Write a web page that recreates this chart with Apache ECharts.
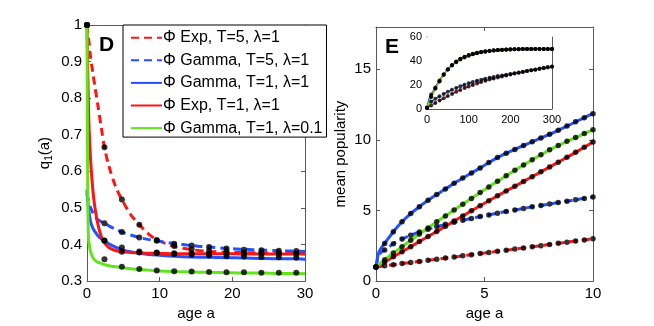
<!DOCTYPE html>
<html>
<head>
<meta charset="utf-8">
<script src="https://cdn.jsdelivr.net/npm/echarts@6/dist/echarts.min.js"></script>
<style>
html, body { margin: 0; padding: 0; background: #fff; }
#chart { width: 654px; height: 326px; }
</style>
</head>
<body>
<div id="chart"></div>
<script>
// ---- panel D : q1(a) against age ----
var ageD = [0, 0.1, 0.2, 0.3, 0.5, 0.8, 1.1, 1.5, 2, 2.4, 3, 4, 4.8, 6, 7.2, 8.4, 9.6, 12, 14.4, 16.8, 19.2, 21.6, 24, 26.4, 28.8, 30]
var dExpT5 = [1, 0.98, 0.965, 0.95, 0.91, 0.87, 0.83, 0.78, 0.715, 0.666, 0.615, 0.555, 0.523, 0.482, 0.454, 0.43, 0.413, 0.395, 0.386, 0.381, 0.379, 0.378, 0.377, 0.377, 0.376, 0.376]
var dGamT5 = [0.54, 0.53, 0.52, 0.512, 0.5, 0.487, 0.477, 0.468, 0.462, 0.458, 0.451, 0.441, 0.434, 0.426, 0.419, 0.414, 0.41, 0.403, 0.397, 0.393, 0.389, 0.387, 0.385, 0.383, 0.382, 0.381]
var dGamT1 = [0.55, 0.52, 0.5, 0.485, 0.462, 0.445, 0.435, 0.424, 0.415, 0.41, 0.402, 0.392, 0.386, 0.38, 0.376, 0.373, 0.371, 0.368, 0.366, 0.365, 0.364, 0.363, 0.362, 0.361, 0.361, 0.36]
var dExpT1 = [1, 0.88, 0.78, 0.71, 0.63, 0.55, 0.5, 0.455, 0.42, 0.405, 0.392, 0.383, 0.38, 0.378, 0.377, 0.376, 0.376, 0.375, 0.375, 0.375, 0.375, 0.374, 0.374, 0.374, 0.374, 0.374]
var dGamL01 = [1, 0.55, 0.42, 0.4, 0.38, 0.365, 0.357, 0.352, 0.348, 0.345, 0.342, 0.339, 0.337, 0.334, 0.332, 0.33, 0.328, 0.326, 0.325, 0.324, 0.323, 0.322, 0.322, 0.321, 0.321, 0.32]
// simulation points
var dotAgeD = [0, 2.4, 4.8, 7.2, 9.6, 12, 14.4, 16.8, 19.2, 21.6, 24, 26.4, 28.8]
var dotExpT5 = [1, 0.666, 0.523, 0.454, 0.412, 0.396, 0.387, 0.382, 0.38, 0.378, 0.377, 0.376, 0.376]
var dotGamT5 = [1, 0.458, 0.434, 0.419, 0.41, 0.402, 0.397, 0.393, 0.389, 0.386, 0.384, 0.383, 0.382]
var dotGamT1 = [1, 0.411, 0.392, 0.381, 0.378, 0.374, 0.372, 0.37, 0.368, 0.367, 0.366, 0.365, 0.364]
var dotExpT1 = [1, 0.41, 0.38, 0.378, 0.377, 0.376, 0.376, 0.375, 0.375, 0.375, 0.375, 0.374, 0.374]
var dotGamL01 = [1, 0.36, 0.339, 0.333, 0.329, 0.327, 0.326, 0.325, 0.324, 0.324, 0.323, 0.323, 0.323]

// ---- panel E : mean popularity against age ----
var ageE = [0, 0.1, 0.2, 0.4, 0.8, 1.2, 1.6, 2, 2.4, 2.8, 3.2, 3.6, 4, 4.4, 4.8, 5.2, 5.6, 6, 6.4, 6.8, 7.2, 7.6, 8, 8.4, 8.8, 9.2, 9.6, 10]
var eExpT5 = [1, 1.02, 1.04, 1.08, 1.16, 1.24, 1.31, 1.39, 1.47, 1.55, 1.63, 1.71, 1.79, 1.87, 1.95, 2.03, 2.11, 2.19, 2.27, 2.35, 2.43, 2.51, 2.6, 2.68, 2.76, 2.84, 2.92, 3.0]
var eGamT5 = [1, 1.7, 2.0, 2.2, 2.65, 2.98, 3.25, 3.48, 3.68, 3.86, 4.02, 4.17, 4.31, 4.44, 4.57, 4.69, 4.81, 4.93, 5.04, 5.15, 5.26, 5.36, 5.46, 5.56, 5.66, 5.76, 5.86, 5.96]
var eGamT1 = [1, 1.9, 2.25, 2.67, 3.5, 4.2, 4.78, 5.27, 5.72, 6.13, 6.52, 6.93, 7.3, 7.66, 8.02, 8.4, 8.75, 9.05, 9.33, 9.6, 9.87, 10.14, 10.4, 10.68, 10.98, 11.28, 11.58, 11.86]
var eExpT1 = [1, 1.09, 1.18, 1.36, 1.72, 2.08, 2.44, 2.8, 3.16, 3.52, 3.88, 4.25, 4.62, 4.98, 5.34, 5.69, 6.04, 6.38, 6.72, 7.06, 7.4, 7.74, 8.08, 8.42, 8.77, 9.12, 9.48, 9.85]
var eGamL01 = [1, 1.13, 1.27, 1.52, 1.99, 2.44, 2.89, 3.33, 3.77, 4.2, 4.62, 5.04, 5.45, 5.86, 6.27, 6.67, 7.07, 7.46, 7.85, 8.23, 8.6, 8.95, 9.3, 9.6, 9.9, 10.17, 10.45, 10.72]

// inset, long ages
var ageI = [0, 5, 10, 20, 30, 40, 50, 60, 70, 80, 90, 100, 110, 120, 130, 140, 150, 160, 170, 180, 190, 200, 210, 220, 230, 240, 250, 260, 270, 280, 290, 300]
var iExpT5 = [1, 2, 3, 5, 7, 8.9, 10.8, 12.6, 14.3, 15.9, 17.4, 18.8, 20.1, 21.3, 22.4, 23.5, 24.5, 25.4, 26.3, 27.1, 27.9, 28.7, 29.5, 30.2, 30.9, 31.6, 32.3, 33, 33.7, 34.3, 34.9, 35.5]
var iGamT5 = [1, 4.5, 6, 8.5, 10.6, 12.5, 14.3, 16, 17.5, 18.9, 20.2, 21.4, 22.5, 23.5, 24.4, 25.2, 26, 26.7, 27.4, 28, 28.6, 29.2, 29.8, 30.4, 31, 31.6, 32.2, 32.8, 33.4, 34, 34.6, 35.2]
var iGamT1 = [1, 8.5, 12, 18, 23.8, 29, 33, 36.3, 39, 41.3, 43, 44.4, 45.6, 46.5, 47.2, 47.8, 48.3, 48.7, 49, 49.2, 49.4, 49.6, 49.7, 49.8, 49.9, 49.9, 50, 50, 50, 50, 50, 50]
var iExpT1 = [1, 5.4, 9.9, 17, 23.2, 28.6, 33.1, 36.7, 39.5, 41.8, 43.5, 44.9, 46, 46.9, 47.6, 48.1, 48.5, 48.9, 49.2, 49.4, 49.6, 49.7, 49.8, 49.9, 49.9, 50, 50, 50, 50, 50, 50, 50]
var iGamL01 = [1, 6, 10.7, 17, 23, 28.5, 33, 36.5, 39.3, 41.6, 43.3, 44.7, 45.8, 46.7, 47.4, 48, 48.4, 48.8, 49.1, 49.3, 49.5, 49.6, 49.7, 49.8, 49.9, 49.9, 50, 50, 50, 50, 50, 50]

var names = ['Φ Exp, T=5, λ=1', 'Φ Gamma, T=5, λ=1', 'Φ Gamma, T=1, λ=1', 'Φ Exp, T=1, λ=1', 'Φ Gamma, T=1, λ=0.1']
var colors = ['#ff1414', '#2450ff', '#2450ff', '#ff1414', '#62e41c']
var dashed = [true, true, false, false, false]

function pairs(xs, ys) {
  return xs.map(function (x, i) { return [x, ys[i]] })
}
// keep only the sampled ages where the simulation dots sit
function onStep(xs, ys, step) {
  var out = []
  xs.forEach(function (x, i) {
    var k = x / step
    if (Math.abs(k - Math.round(k)) < 1e-6) out.push([x, ys[i]])
  })
  return out
}

var font = 'Liberation Sans, Arial, sans-serif'
var axisColor = '#5a5a5a'

function axis(extra, labelSize, showLabel) {
  var a = {
    type: 'value',
    axisLine: { show: true, onZero: false, lineStyle: { color: axisColor, width: 1 } },
    axisTick: { show: true, inside: true, length: labelSize > 12 ? 4 : 3, lineStyle: { color: axisColor } },
    axisLabel: { show: showLabel, color: '#000', fontSize: labelSize, fontFamily: font, margin: 5 },
    splitLine: { show: false }
  }
  return Object.assign(a, extra)
}

var lineSets = [
  { d: dExpT5, e: eExpT5, i: iExpT5, dot: dotExpT5 },
  { d: dGamT5, e: eGamT5, i: iGamT5, dot: dotGamT5 },
  { d: dGamT1, e: eGamT1, i: iGamT1, dot: dotGamT1 },
  { d: dExpT1, e: eExpT1, i: iExpT1, dot: dotExpT1 },
  { d: dGamL01, e: eGamL01, i: iGamL01, dot: dotGamL01 }
]

var series = []
lineSets.forEach(function (s, k) {
  var ls = { color: colors[k], width: 3, type: dashed[k] ? [8, 5] : 'solid' }
  series.push({
    name: names[k], type: 'line', xAxisIndex: 0, yAxisIndex: 0,
    data: pairs(ageD, s.d), smooth: 0.3, symbol: 'none', lineStyle: ls, itemStyle: { color: colors[k] }, z: 2
  })
  series.push({
    name: 'E' + k, type: 'line', xAxisIndex: 2, yAxisIndex: 2,
    data: pairs(ageE, s.e), smooth: 0.3, symbol: 'none', lineStyle: ls, z: 2
  })
  series.push({
    name: 'I' + k, type: 'line', xAxisIndex: 4, yAxisIndex: 4,
    data: pairs(ageI, s.i), smooth: 0.3, symbol: 'none',
    lineStyle: { color: colors[k], width: 1.5, type: dashed[k] ? [4, 3] : 'solid' }, z: 2
  })
})
// black simulation dots
lineSets.forEach(function (s, k) {
  series.push({
    name: 'dD' + k, type: 'scatter', xAxisIndex: 0, yAxisIndex: 0,
    data: pairs(dotAgeD, s.dot), symbolSize: 6, itemStyle: { color: '#000' }, z: 4, silent: true
  })
  series.push({
    name: 'dE' + k, type: 'scatter', xAxisIndex: 2, yAxisIndex: 2,
    data: onStep(ageE, s.e, 0.4), symbolSize: 5.5, itemStyle: { color: '#000' }, z: 4, silent: true
  })
  series.push({
    name: 'dI' + k, type: 'scatter', xAxisIndex: 4, yAxisIndex: 4,
    data: onStep(ageI, s.i, 10), symbolSize: 4, itemStyle: { color: '#000' }, z: 4, silent: true
  })
})

var chart = echarts.init(document.getElementById('chart'), null, { renderer: 'canvas' })
chart.setOption({
  animation: false,
  backgroundColor: '#fff',
  textStyle: { fontFamily: font },
  grid: [
    { left: 87, top: 25, width: 218, height: 263 },
    { left: 376, top: 27, width: 217, height: 261 },
    { left: 427, top: 37, width: 125, height: 72, show: true, backgroundColor: '#fff', borderWidth: 0, z: 1 }
  ],
  xAxis: [
    axis({ gridIndex: 0, min: 0, max: 30, interval: 10, name: 'age a', nameLocation: 'middle', nameGap: 18,
      nameTextStyle: { fontSize: 15, color: '#000', fontFamily: font } }, 15, true),
    axis({ gridIndex: 0, min: 0, max: 30, interval: 10, position: 'top' }, 15, false),
    axis({ gridIndex: 1, min: 0, max: 10, interval: 5, name: 'age a', nameLocation: 'middle', nameGap: 18,
      nameTextStyle: { fontSize: 15, color: '#000', fontFamily: font } }, 15, true),
    axis({ gridIndex: 1, min: 0, max: 10, interval: 5, position: 'top' }, 15, false),
    axis({ gridIndex: 2, min: 0, max: 300, interval: 100 }, 11, true),
    axis({ gridIndex: 2, min: 0, max: 300, interval: 100, position: 'top' }, 11, false)
  ],
  yAxis: [
    axis({ gridIndex: 0, min: 0.3, max: 1, interval: 0.1, name: '{n|q}{s|1}{n|(a)}', nameLocation: 'middle', nameGap: 33,
      nameTextStyle: { rich: { n: { fontSize: 15, color: '#000', fontFamily: font }, s: { fontSize: 10, color: '#000', fontFamily: font, padding: [8, 0, 0, 0] } } } }, 15, true),
    axis({ gridIndex: 0, min: 0.3, max: 1, interval: 0.1, position: 'right' }, 15, false),
    axis({ gridIndex: 1, min: 0, max: 18, interval: 5, name: 'mean popularity', nameLocation: 'middle', nameGap: 28,
      nameTextStyle: { fontSize: 15, color: '#000', fontFamily: font } }, 15, true),
    axis({ gridIndex: 1, min: 0, max: 18, interval: 5, position: 'right' }, 15, false),
    axis({ gridIndex: 2, min: 0, max: 60, interval: 20 }, 11, true),
    axis({ gridIndex: 2, min: 0, max: 60, interval: 20, position: 'right' }, 11, false)
  ],
  legend: {
    data: names,
    orient: 'vertical',
    left: 123, top: 25,
    backgroundColor: '#fff',
    borderColor: '#000', borderWidth: 1, borderRadius: 0,
    padding: [4.7, 4, 1, 7],
    itemWidth: 31, itemHeight: 16, itemGap: 6.6,
    itemStyle: { opacity: 0 },
    textStyle: { fontSize: 16, lineHeight: 16, color: '#000', fontFamily: font, padding: [0, 0, 0, -4] },
    selectedMode: false
  },
  graphic: [
    { type: 'text', left: 99, top: 35, style: { text: 'D', fontSize: 21, fontWeight: 'bold', fill: '#000', fontFamily: font } },
    { type: 'text', left: 385, top: 37, style: { text: 'E', fontSize: 21, fontWeight: 'bold', fill: '#000', fontFamily: font } }
  ],
  series: series
})
// no label at the top end (18) of the popularity axis
chart.setOption({ yAxis: [{}, {}, { axisLabel: { showMaxLabel: false } }] })
</script>
</body>
</html>
